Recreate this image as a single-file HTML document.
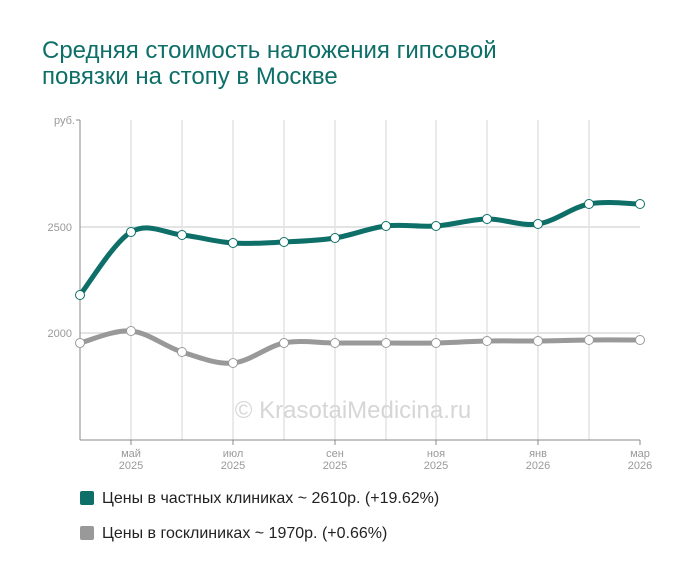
<!DOCTYPE html>
<html><head><meta charset="utf-8"><style>
body{margin:0;background:#fff;width:700px;height:583px;overflow:hidden;font-family:"Liberation Sans",sans-serif}
.t{position:absolute;left:42px;top:38px;font-size:24px;line-height:26px;color:#0e6f68}
.lg{position:absolute;left:80px;font-size:16px;color:#222}
.lg span{display:inline-block;width:14px;height:14px;border-radius:2px;vertical-align:-2px;margin-right:8px}
</style></head><body>
<div class="t">Средняя стоимость наложения гипсовой<br>повязки на стопу в Москве</div>
<svg id="s" width="700" height="583" style="position:absolute;left:0;top:0;z-index:-1" font-family="Liberation Sans, sans-serif">
<g stroke="#d4d4d4" stroke-width="1">
<line x1="131" y1="120" x2="131" y2="440"/><line x1="182" y1="120" x2="182" y2="440"/><line x1="233" y1="120" x2="233" y2="440"/><line x1="284" y1="120" x2="284" y2="440"/><line x1="335" y1="120" x2="335" y2="440"/><line x1="386" y1="120" x2="386" y2="440"/><line x1="436" y1="120" x2="436" y2="440"/><line x1="487" y1="120" x2="487" y2="440"/><line x1="538" y1="120" x2="538" y2="440"/><line x1="589" y1="120" x2="589" y2="440"/>
</g>
<g stroke="#e4e4e4" stroke-width="2"><line x1="80" y1="227" x2="640" y2="227"/><line x1="80" y1="333" x2="640" y2="333"/></g>
<g stroke="#888" stroke-width="1"><line x1="80" y1="120" x2="80" y2="440"/><line x1="80" y1="440" x2="640" y2="440"/><line x1="76" y1="120" x2="80" y2="120"/>
<line x1="131" y1="440" x2="131" y2="445"/><line x1="233" y1="440" x2="233" y2="445"/><line x1="335" y1="440" x2="335" y2="445"/><line x1="436" y1="440" x2="436" y2="445"/><line x1="538" y1="440" x2="538" y2="445"/><line x1="640" y1="440" x2="640" y2="445"/></g>
<g fill="#999" font-size="11" text-anchor="end"><text x="75" y="124">руб.</text><text x="72" y="231">2500</text><text x="72" y="337">2000</text></g>
<g fill="#999" font-size="11" text-anchor="middle">
<text x="131" y="457">май</text><text x="131" y="469">2025</text>
<text x="233" y="457">июл</text><text x="233" y="469">2025</text>
<text x="335" y="457">сен</text><text x="335" y="469">2025</text>
<text x="436" y="457">ноя</text><text x="436" y="469">2025</text>
<text x="538" y="457">янв</text><text x="538" y="469">2026</text>
<text x="640" y="457">мар</text><text x="640" y="469">2026</text></g>
<text x="353" y="418" fill="#d6d6d6" font-size="24" text-anchor="middle">© KrasotaiMedicina.ru</text>
<g id="g"></g>
</svg>
<div class="lg" style="top:490px"><span style="background:#0e6f68"></span>Цены в частных клиниках ~ 2610р. (+19.62%)</div>
<div class="lg" style="top:525px"><span style="background:#999"></span>Цены в госклиниках ~ 1970р. (+0.66%)</div>
<script>
var xs=[80,131,182,233,284,335,386,436,487,538,589,640];
var A=[295,232,235,243,242,238,226,226,219,224,204,204];
var B=[343,331,352,363,343,343,343,343,341,341,340,340];
function path(y){var d="M"+xs[0]+","+y[0];for(var i=0;i<11;i++){var p0=i?i-1:i,p3=i<10?i+2:i+1;
var c1x=xs[i]+(xs[i+1]-xs[p0])/6,c1y=y[i]+(y[i+1]-y[p0])/6,c2x=xs[i+1]-(xs[p3]-xs[i])/6,c2y=y[i+1]-(y[p3]-y[i])/6;
d+=" C"+c1x+","+c1y+" "+c2x+","+c2y+" "+xs[i+1]+","+y[i+1];}return d;}
var h="";
[[B,"#999"],[A,"#0e6f68"]].forEach(function(s){h+='<path d="'+path(s[0])+'" fill="none" stroke="'+s[1]+'" stroke-width="5"/>';
for(var i=0;i<12;i++)h+='<circle cx="'+xs[i]+'" cy="'+s[0][i]+'" r="4.5" fill="#fff" stroke="'+s[1]+'" stroke-width="1"/>';});
document.getElementById("g").innerHTML=h;
</script>
</body></html>
